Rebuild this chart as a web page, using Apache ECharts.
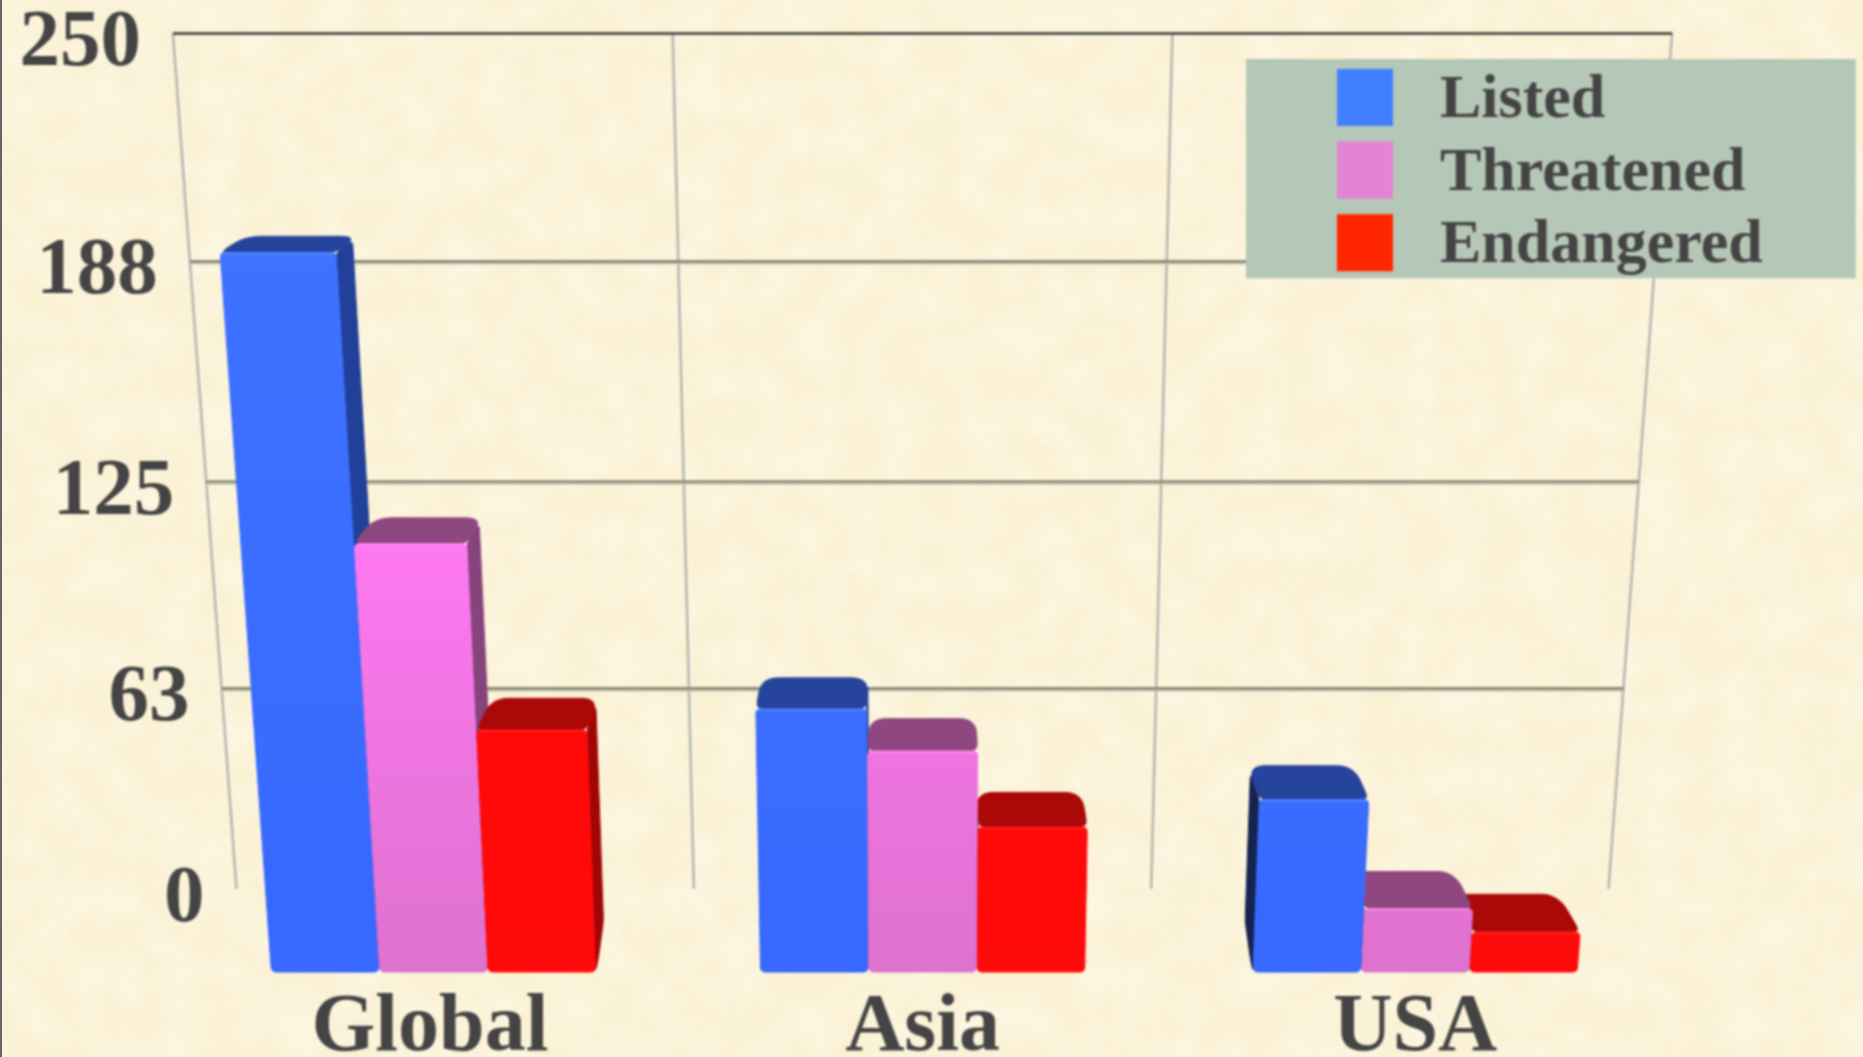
<!DOCTYPE html>
<html><head><meta charset="utf-8">
<style>
html,body{margin:0;padding:0;width:1863px;height:1057px;overflow:hidden;background:#FBF2D6;}
#tex{position:absolute;left:0;top:0;width:1863px;height:1057px;}
#edge{position:absolute;left:0;top:0;width:2px;height:1057px;background:#666;}
#chart{position:absolute;left:0;top:0;width:1863px;height:1057px;filter:blur(0.8px);}
</style>
<script src="https://cdn.jsdelivr.net/npm/echarts@6/dist/echarts.min.js"></script>
</head><body>
<svg id="tex" width="1863" height="1057" xmlns="http://www.w3.org/2000/svg">
<filter id="d" x="0" y="0" width="100%" height="100%"><feTurbulence type="fractalNoise" baseFrequency="0.02" numOctaves="4" seed="7"/>
<feColorMatrix type="matrix" values="0 0 0 0 0.95  0 0 0 0 0.90  0 0 0 0 0.70  3.2 0 0 0 -1.35"/></filter>
<filter id="l" x="0" y="0" width="100%" height="100%"><feTurbulence type="fractalNoise" baseFrequency="0.025" numOctaves="4" seed="23"/>
<feColorMatrix type="matrix" values="0 0 0 0 1  0 0 0 0 0.98  0 0 0 0 0.92  3.2 0 0 0 -1.35"/></filter>
<rect width="1863" height="1057" filter="url(#d)" opacity="0.28"/>
<rect width="1863" height="1057" filter="url(#l)" opacity="0.3"/></svg>
<div id="chart"></div><div id="edge"></div>
<script>
const categories = ['Global', 'Asia', 'USA'];
const seriesNames = ['Listed', 'Threatened', 'Endangered'];
const listed = [200, 77, 51];
const threatened = [123, 65, 19];
const endangered = [71, 43, 12];
const tickValues = [0, 63, 125, 188, 250];
const tickLabels = ['0', '63', '125', '188', '250'];
const dividers = [0, 1, 2, 3];

const legendColors = ['#4080FF', '#E383D3', '#FF2600'];
const palette = [
  {low:'#3768FF', high:'#3E72FF', top:'#26449C', right:'#21409A', left:'#14234F', glow:'#5B8CFF'},
  {low:'#DE72CE', high:'#FF78F3', top:'#8E487F', right:'#87437C', left:'#4A2645', glow:'#FF90F0'},
  {low:'#FF0A0A', high:'#FF0808', top:'#AB0808', right:'#A00606', left:'#560000', glow:'#FF2A2A'}
];

/* perspective of the 3-D box: X across, t = value/max up, Z toward the viewer */
const CX = 922.6, W0 = 1372, Y0 = 888.9, A = 776.7, B = 77.2, CW = 0.0848, CH = 0.092, E = 0.0715;
function project(X, t, Z) {
  return [CX + W0 * X / (1 - CW * t - E * Z), Y0 - (A * t - B * Z) / (1 - CH * t - E * Z)];
}
const Z_BACK = 0.55, Z_FRONT = 1;
const OFFSETS = [-0.22, 0, 0.22];
const GROUP_SHIFT = [0.007, 0, 0];

/* replace each polygon corner with a short curve so the bars look bevelled */
function roundPoly(pts, r) {
  const out = [], n = pts.length;
  for (let i = 0; i < n; i++) {
    const p = pts[i], a = pts[(i + n - 1) % n], b = pts[(i + 1) % n];
    const la = Math.hypot(a[0] - p[0], a[1] - p[1]) || 1, lb = Math.hypot(b[0] - p[0], b[1] - p[1]) || 1;
    const ra = Math.min(r, la / 2), rb = Math.min(r, lb / 2);
    const s = [p[0] + (a[0] - p[0]) * ra / la, p[1] + (a[1] - p[1]) * ra / la];
    const e = [p[0] + (b[0] - p[0]) * rb / lb, p[1] + (b[1] - p[1]) * rb / lb];
    for (let k = 0; k <= 4; k++) {
      const u = k / 4, w = 1 - u;
      out.push([w * w * s[0] + 2 * w * u * p[0] + u * u * e[0], w * w * s[1] + 2 * w * u * p[1] + u * u * e[1]]);
    }
  }
  return out;
}

function barRenderer(fam) {
  const pal = palette[fam];
  return function (params, api) {
    const cs = params.coordSys;
    const cat = api.value(0);
    const p = api.coord([cat, api.value(1)]);
    const band = api.size([1, 0])[0];
    const mid = cs.x + cs.width / 2;
    const centre = p[0] + (OFFSETS[fam] + GROUP_SHIFT[cat]) * band;
    const half = 0.109 * band;
    const X0 = (centre - half - mid) / cs.width;
    const X1 = (centre + half - mid) / cs.width;
    const t = (cs.y + cs.height - p[1]) / cs.height;
    const cx = 0.006, cz = 0.1;
    const z2 = Math.round(1000 - Math.abs(centre - mid));
    const kids = [];
    const add = (pts, fill, dz, r) => kids.push({
      type: 'polygon', z2: z2 + dz, shape: {points: roundPoly(pts, r)},
      style: {fill: fill, stroke: fill, lineWidth: 1, lineJoin: 'round'}
    });
    const sideFace = (X) => [
      project(X, t, Z_FRONT), project(X, t, Z_BACK + cz), project(X, Math.min(0.025, t), Z_BACK + cz),
      project(X, 0.004, Z_BACK + 0.34), project(X, 0, Z_FRONT)
    ];
    if (X1 < 0) add(sideFace(X1), pal.right, 0, 6);
    if (X0 > 0) add(sideFace(X0), pal.left, 0, 6);
    add([project(X0 + cx, t, Z_BACK), project(X1 - cx, t, Z_BACK), project(X1, t, Z_BACK + cz),
         project(X1, t, Z_FRONT), project(X0, t, Z_FRONT), project(X0, t, Z_BACK + cz)], pal.top, 1, 8);
    const frontTop = echarts.color.lerp(Math.min(1, t / 0.5), [pal.low, pal.high]);
    add([project(X0, t, Z_FRONT), project(X1, t, Z_FRONT), project(X1, 0, Z_FRONT), project(X0, 0, Z_FRONT)],
        {type: 'linear', x: 0, y: 0, x2: 0, y2: 1, colorStops: [{offset: 0, color: frontTop}, {offset: 1, color: pal.low}]}, 2, 5);
    kids.push({type: 'line', z2: z2 + 3,
      shape: {x1: project(X0, t, Z_FRONT)[0] + 3, y1: project(X0, t, Z_FRONT)[1] + 1,
              x2: project(X1, t, Z_FRONT)[0] - 3, y2: project(X1, t, Z_FRONT)[1] + 1},
      style: {stroke: pal.glow, lineWidth: 1.5}});
    return {type: 'group', children: kids};
  };
}

function gridRenderer(params, api) {
  const cs = params.coordSys;
  const v = api.value(0);
  const t = (cs.y + cs.height - api.coord([0, v])[1]) / cs.height;
  const a = project(-0.5, t, 0), b = project(0.5, t, 0);
  const kids = [];
  if (v > 0) {
    const top = v === 250;
    kids.push({type: 'line', shape: {x1: a[0], y1: a[1], x2: b[0], y2: b[1]},
      style: {stroke: top ? '#55554E' : '#8E8B7B', lineWidth: 3}});
    if (!top) kids.push({type: 'line', shape: {x1: a[0], y1: a[1] + 2.5, x2: b[0], y2: b[1] + 2.5},
      style: {stroke: '#CFCBB4', lineWidth: 1.5}});
  }
  kids.push({type: 'text', style: {
    text: tickLabels[params.dataIndex], x: a[0] - 32, y: a[1] + 11,
    textAlign: 'right', textVerticalAlign: 'middle', verticalAlign: 'middle',
    font: 'bold 81px "Liberation Serif"', fill: '#444444'}});
  return {type: 'group', children: kids};
}

function dividerRenderer(params, api) {
  const X = -0.5 + api.value(0) / categories.length;
  const a = project(X, 1, 0), b = project(X, 0, 0);
  return {type: 'group', children: [
    {type: 'line', shape: {x1: a[0] + 2, y1: a[1], x2: b[0] + 2, y2: b[1]}, style: {stroke: '#FFFDF0', lineWidth: 1.5}},
    {type: 'line', shape: {x1: a[0], y1: a[1], x2: b[0], y2: b[1]}, style: {stroke: '#BDBBB0', lineWidth: 3}}
  ]};
}

const valuesBySeries = [listed, threatened, endangered];
const chart = echarts.init(document.getElementById('chart'), null, {renderer: 'canvas'});
chart.setOption({
  animation: false,
  backgroundColor: 'transparent',
  grid: {left: 183.6, width: 1478, top: 33, height: 939, outerBoundsMode: 'none'},
  xAxis: {type: 'category', data: categories, axisLine: {show: false}, axisTick: {show: false},
    axisLabel: {margin: 16, color: '#444444', fontFamily: 'Liberation Serif', fontWeight: 'bold', fontSize: 82, lineHeight: 82}},
  yAxis: {type: 'value', min: 0, max: 250, interval: 50, axisLine: {show: false}, axisTick: {show: false},
    axisLabel: {show: false}, splitLine: {show: false}},
  legend: {
    data: seriesNames, orient: 'vertical', left: 1246, top: 59, width: 610,
    backgroundColor: '#B5C7B7', padding: [4, 93, 1, 91], itemWidth: 56, itemHeight: 57, itemGap: 3.6,
    icon: 'rect', itemStyle: {borderWidth: 0}, selectedMode: false,
    formatter: '{t|{name}}',
    textStyle: {color: '#444444', padding: [0, 0, 0, 42],
      rich: {t: {fontFamily: 'Liberation Serif', fontWeight: 'bold', fontSize: 62, lineHeight: 57, color: '#444444', padding: [7, 0, 0, 0]}}}
  },
  series: [
    {type: 'custom', name: 'wall', z: 1, silent: true, clip: false, renderItem: dividerRenderer, data: dividers.map(d => [d])},
    {type: 'custom', name: 'ticks', z: 1, silent: true, clip: false, renderItem: gridRenderer, data: tickValues.map(v => [v])}
  ].concat(seriesNames.map((name, i) => ({
    type: 'custom', name: name, z: 2, clip: false, itemStyle: {color: legendColors[i]},
    renderItem: barRenderer(i), data: valuesBySeries[i].map((v, c) => [c, v]), encode: {x: 0, y: 1}
  })))
});
</script>
</body></html>
